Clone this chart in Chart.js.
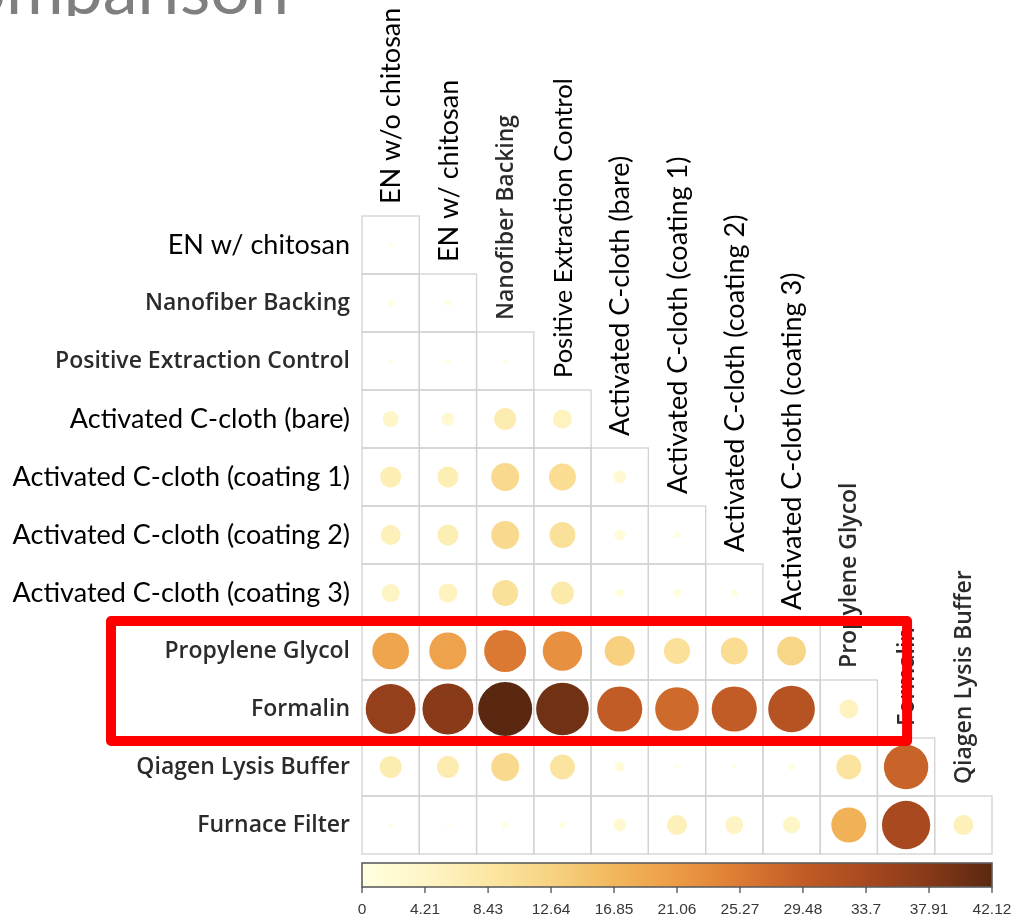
<!DOCTYPE html>
<html>
<head>
<meta charset="utf-8">
<script src="https://cdn.jsdelivr.net/npm/chart.js@4.4.1/dist/chart.umd.min.js"></script>
<style>
  html, body { margin: 0; padding: 0; background: #ffffff; overflow: hidden; }
  #wrap { width: 1019px; height: 919px; position: relative; }
</style>
</head>
<body>
<div id="wrap"><canvas id="chart" width="1019" height="919"></canvas></div>
<script>
// Sample types compared against each other (lower-triangular matrix)
const columns = [
  'EN w/o chitosan', 'EN w/ chitosan', 'Nanofiber Backing', 'Positive Extraction Control',
  'Activated C-cloth (bare)', 'Activated C-cloth (coating 1)', 'Activated C-cloth (coating 2)',
  'Activated C-cloth (coating 3)', 'Propylene Glycol', 'Formalin', 'Qiagen Lysis Buffer'
];
const rows = [
  'EN w/ chitosan', 'Nanofiber Backing', 'Positive Extraction Control', 'Activated C-cloth (bare)',
  'Activated C-cloth (coating 1)', 'Activated C-cloth (coating 2)', 'Activated C-cloth (coating 3)',
  'Propylene Glycol', 'Formalin', 'Qiagen Lysis Buffer', 'Furnace Filter'
];

// One array per row, values for columns 0..row index
const enWithChitosan     = [0.3];
const nanofiberBacking   = [0.5, 0.5];
const positiveExtraction = [0.3, 0.3, 0.3];
const cclothBare         = [3.7, 2.4, 7.0, 5.2];
const cclothCoating1     = [6.4, 6.4, 11.3, 10.5, 2.4];
const cclothCoating2     = [5.8, 6.4, 11.3, 9.7, 1.7, 0.5];
const cclothCoating3     = [4.7, 5.2, 9.7, 7.6, 0.9, 0.9, 0.6];
const propyleneGlycol    = [19.5, 20.0, 25.5, 22.5, 13.0, 9.8, 10.5, 12.0];
const formalin           = [36.0, 37.5, 42.12, 40.0, 29.5, 27.5, 29.5, 31.5, 5.2];
const qiagenLysisBuffer  = [7.0, 7.0, 11.3, 9.0, 1.4, 0.3, 0.3, 0.5, 9.0, 28.5];
const furnaceFilter      = [0.3, 0.2, 0.5, 0.4, 2.4, 5.8, 4.7, 4.2, 17.7, 33.7, 5.8];

const colorbarTicks = [0, 4.21, 8.43, 12.64, 16.85, 21.06, 25.27, 29.48, 33.7, 37.91, 42.12];

const rowValues = [
  enWithChitosan, nanofiberBacking, positiveExtraction, cclothBare, cclothCoating1,
  cclothCoating2, cclothCoating3, propyleneGlycol, formalin, qiagenLysisBuffer, furnaceFilter
];

const vMax = colorbarTicks[colorbarTicks.length - 1];
const rMax = 27;

// Yellow-orange-brown colour ramp
const ramp = [
  [0.0, '#FFFFE0'], [0.1, '#FEF5C6'], [0.2, '#FCE7A4'], [0.3, '#F7D382'],
  [0.4, '#F2B75C'], [0.5, '#EC9B45'], [0.6, '#DC7B33'], [0.7, '#C25C26'],
  [0.8, '#A8491F'], [0.9, '#863918'], [1.0, '#5A2810']
];
function hexToRgb(h) {
  return [parseInt(h.slice(1, 3), 16), parseInt(h.slice(3, 5), 16), parseInt(h.slice(5, 7), 16)];
}
function colorAt(t) {
  t = Math.max(0, Math.min(1, t));
  for (let k = 1; k < ramp.length; k++) {
    if (t <= ramp[k][0]) {
      const [t0, c0] = ramp[k - 1], [t1, c1] = ramp[k];
      const f = (t - t0) / (t1 - t0);
      const a = hexToRgb(c0), b = hexToRgb(c1);
      const m = a.map((v, i) => Math.round(v + (b[i] - v) * f));
      return `rgb(${m[0]},${m[1]},${m[2]})`;
    }
  }
  return ramp[ramp.length - 1][1];
}

const points = [];
rowValues.forEach((vals, i) => {
  vals.forEach((v, j) => points.push({ x: columns[j], y: rows[i], v }));
});

// Label typography: document-style labels and plot-style labels
const docFont      = { family: 'Lato', size: 27, weight: '400', color: '#000000' };
const docFontSmall = { family: 'Lato', size: 25.5, weight: '400', color: '#000000' };
const plotFont     = { family: '"Open Sans"', size: 23, weight: '600', color: '#2b2b2b', soft: true };
const rowLabelFonts = [docFont, plotFont, plotFont, docFont, docFont, docFont, docFont, plotFont, plotFont, plotFont, plotFont];
const colLabelFonts = [docFont, docFont, plotFont, docFontSmall, docFont, docFont, docFont, docFont, plotFont, plotFont, plotFont];

function setFont(ctx, f) {
  ctx.font = `${f.weight} ${f.size}px ${f.family}`;
  ctx.fillStyle = f.color;
  ctx.filter = f.soft ? 'blur(0.45px)' : 'none';
}

const matrixDecor = {
  id: 'matrixDecor',
  beforeDatasetsDraw(chart) {
    const { ctx, scales: { x, y } } = chart;
    const hw = (x.getPixelForValue(1) - x.getPixelForValue(0)) / 2;
    const hh = (y.getPixelForValue(1) - y.getPixelForValue(0)) / 2;
    ctx.save();
    ctx.strokeStyle = '#d2d2d2';
    ctx.lineWidth = 1.3;
    ctx.filter = 'blur(0.4px)';
    rowValues.forEach((vals, i) => {
      vals.forEach((v, j) => {
        const cx = x.getPixelForValue(j), cy = y.getPixelForValue(i);
        ctx.strokeRect(cx - hw, cy - hh, 2 * hw, 2 * hh);
      });
    });
    ctx.restore();
    ctx.filter = 'blur(0.7px)';
  },
  afterDatasetsDraw(chart) {
    const { ctx, chartArea, scales: { x, y, cbar } } = chart;
    ctx.filter = 'none';
    const hh = (y.getPixelForValue(1) - y.getPixelForValue(0)) / 2;

    // Row labels
    ctx.save();
    ctx.textAlign = 'right';
    ctx.textBaseline = 'middle';
    rows.forEach((label, i) => {
      setFont(ctx, rowLabelFonts[i]);
      ctx.fillText(label, chartArea.left - 12, y.getPixelForValue(i));
    });
    ctx.restore();

    // Column labels, rotated, sitting above the first cell of each column
    columns.forEach((label, j) => {
      ctx.save();
      setFont(ctx, colLabelFonts[j]);
      ctx.translate(x.getPixelForValue(j) + 1, y.getPixelForValue(j) - hh - 12);
      ctx.rotate(-Math.PI / 2);
      ctx.textAlign = 'left';
      ctx.textBaseline = 'middle';
      ctx.fillText(label, 0, 0);
      ctx.restore();
    });

    // Colour bar
    const x0 = cbar.getPixelForValue(0), x1 = cbar.getPixelForValue(vMax);
    const top = 863, bottom = 887;
    ctx.save();
    ctx.filter = 'blur(0.5px)';
    const grad = ctx.createLinearGradient(x0, 0, x1, 0);
    ramp.forEach(([t, c]) => grad.addColorStop(t, c));
    ctx.fillStyle = grad;
    ctx.fillRect(x0, top, x1 - x0, bottom - top);
    ctx.strokeStyle = '#5e5e5e';
    ctx.lineWidth = 1.6;
    ctx.strokeRect(x0, top, x1 - x0, bottom - top);
    ctx.strokeStyle = '#505050';
    ctx.lineWidth = 1.3;
    ctx.filter = 'blur(0.6px)';
    ctx.font = '15.5px "Liberation Sans", Arial, sans-serif';
    ctx.fillStyle = '#383838';
    ctx.textAlign = 'center';
    ctx.textBaseline = 'middle';
    colorbarTicks.forEach(v => {
      const px = cbar.getPixelForValue(v);
      ctx.beginPath();
      ctx.moveTo(px, bottom);
      ctx.lineTo(px, bottom + 6);
      ctx.stroke();
      ctx.fillText(String(v), px, 910);
    });
    ctx.restore();

    // Highlight around the Propylene Glycol and Formalin rows
    ctx.save();
    ctx.strokeStyle = '#ff0000';
    ctx.lineWidth = 10;
    ctx.lineJoin = 'round';
    const boxTop = y.getPixelForValue(7) - hh - 1;
    const boxBottom = y.getPixelForValue(8) + hh + 3;
    const boxRight = x.getPixelForValue(9) + 1;
    ctx.strokeRect(111, boxTop, boxRight - 111, boxBottom - boxTop);
    ctx.restore();

    // Slide title band along the top edge
    ctx.save();
    ctx.beginPath();
    ctx.rect(0, 0, chart.width, 16);
    ctx.clip();
    ctx.font = '400 70px Lato';
    ctx.fillStyle = '#7f7f7f';
    ctx.textBaseline = 'alphabetic';
    ctx.textAlign = 'left';
    const lead = ctx.measureText('Co').width;
    ctx.fillText('Comparison', 6 - lead, 14);
    ctx.restore();
  }
};

new Chart(document.getElementById('chart'), {
  type: 'bubble',
  data: {
    datasets: [{
      data: points,
      xAxisID: 'x',
      yAxisID: 'y',
      borderWidth: 0,
      backgroundColor: ctx => colorAt(ctx.raw.v / vMax),
      hoverBackgroundColor: ctx => colorAt(ctx.raw.v / vMax),
      radius: ctx => rMax * Math.sqrt(ctx.raw.v / vMax)
    }]
  },
  options: {
    responsive: false,
    animation: false,
    layout: { padding: { left: 362, right: 19, top: 216, bottom: 65 } },
    plugins: { legend: { display: false }, tooltip: { enabled: false } },
    scales: {
      x: { type: 'category', labels: columns, offset: true, display: false },
      y: { type: 'category', labels: rows, offset: true, display: false },
      cbar: { type: 'linear', axis: 'x', min: 0, max: vMax, display: false }
    }
  },
  plugins: [matrixDecor]
});
</script>
</body>
</html>
